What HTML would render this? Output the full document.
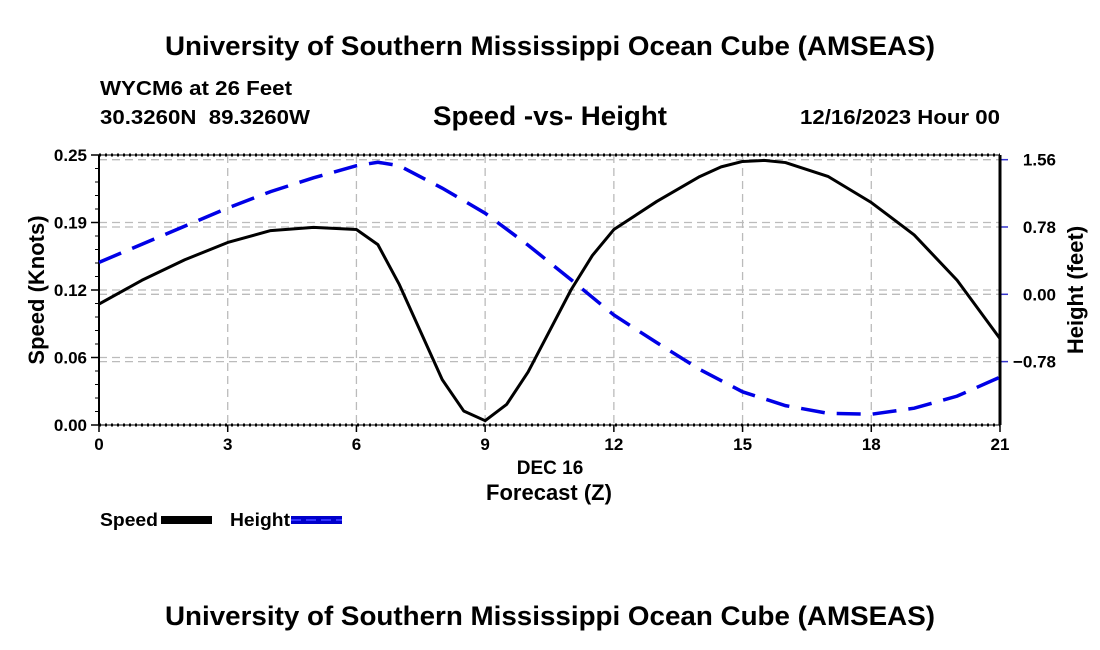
<!DOCTYPE html>
<html><head><meta charset="utf-8"><style>
body{margin:0;background:#fff;}
svg{display:block;font-family:"Liberation Sans",Arial,sans-serif;font-weight:bold;}
</style></head><body>
<svg id="chart" width="1100" height="650" viewBox="0 0 1100 650">
<text x="165" y="55" font-size="27" textLength="770" lengthAdjust="spacingAndGlyphs">University of Southern Mississippi Ocean Cube (AMSEAS)</text>
<text x="100" y="95" font-size="20" textLength="192" lengthAdjust="spacingAndGlyphs">WYCM6 at 26 Feet</text>
<text x="100" y="124" font-size="20" textLength="210" lengthAdjust="spacingAndGlyphs">30.3260N&#160;&#160;89.3260W</text>
<text x="433" y="125" font-size="27" textLength="234" lengthAdjust="spacingAndGlyphs">Speed -vs- Height</text>
<text x="800" y="124" font-size="20" textLength="200" lengthAdjust="spacingAndGlyphs">12/16/2023 Hour 00</text>
<text x="165" y="625" font-size="27" textLength="770" lengthAdjust="spacingAndGlyphs">University of Southern Mississippi Ocean Cube (AMSEAS)</text>
<text x="550" y="474" text-anchor="middle" font-size="19">DEC 16</text>
<text x="549" y="500" text-anchor="middle" font-size="22">Forecast (Z)</text>
<text transform="translate(44,290) rotate(-90)" text-anchor="middle" font-size="22">Speed (Knots)</text>
<text transform="translate(1083,290) rotate(-90)" text-anchor="middle" font-size="22">Height (feet)</text>
<g>
<text x="100" y="526" font-size="18" textLength="58" lengthAdjust="spacingAndGlyphs">Speed</text>
<rect x="161" y="516" width="51" height="8" fill="#000"/>
<text x="230" y="526" font-size="18" textLength="60" lengthAdjust="spacingAndGlyphs">Height</text>
<rect x="291" y="516" width="51" height="8" fill="#0000cc"/>
<line x1="291" y1="520" x2="342" y2="520" stroke="#3333ff" stroke-width="2" stroke-dasharray="10,5"/>
</g>
<g id="grid"></g><g id="axes"></g><g id="series"></g>
</svg>
<script>
const hours=[0,3,6,9,12,15,18,21];
const speedTicks=[0,0.0625,0.125,0.1875,0.25];
const speedTickLabels=["0.00","0.06","0.12","0.19","0.25"];
const heightTicks=[1.56,0.78,0,-0.78];
const heightTickLabels=["1.56","0.78","0.00","\u22120.78"];
const speedX=[0,1,2,3,4,5,6,6.5,7,7.5,8,8.5,9,9.5,10,10.5,11,11.5,12,13,14,14.5,15,15.5,16,17,18,19,20,21];
const speedVals=[0.112,0.134,0.153,0.169,0.180,0.183,0.181,0.167,0.130,0.086,0.042,0.013,0.004,0.019,0.049,0.087,0.125,0.157,0.181,0.207,0.230,0.239,0.244,0.245,0.243,0.230,0.206,0.176,0.134,0.080];
const heightX=[0,1,2,3,4,5,6,6.5,7,8,9,10,11,12,13,14,15,16,17,18,19,20,21];
const heightVals=[0.37,0.58,0.79,1.00,1.19,1.35,1.49,1.53,1.49,1.23,0.94,0.57,0.17,-0.24,-0.56,-0.87,-1.13,-1.29,-1.38,-1.39,-1.32,-1.18,-0.96];
const NS="http://www.w3.org/2000/svg";
const L=99,R=1000,T=155,B=425;
const xS=h=>L+h*(R-L)/21;
const yS=s=>B-s*(B-T)/0.25;
const yH=h=>294.3-h*86.3;
function mk(tag,attrs,parent){const e=document.createElementNS(NS,tag);for(const k in attrs)e.setAttribute(k,attrs[k]);parent.appendChild(e);return e;}
const grid=document.getElementById('grid'),axes=document.getElementById('axes'),series=document.getElementById('series');
hours.forEach((h,i)=>{
  if(h>0&&h<21){const g=mk('line',{x1:xS(h),x2:xS(h),y1:T,y2:B,stroke:'#bbb','stroke-width':1.3,'stroke-dasharray':'8,5'},grid);
  
  }
  const t=mk('line',{x1:xS(h),x2:xS(h),y1:B,y2:B+7,stroke:'#000','stroke-width':1.5},axes);
  
  
  const tx=mk('text',{x:xS(h),y:B+25,'text-anchor':'middle','font-size':17},axes);tx.textContent=h;
  
  
});
speedTicks.forEach((s,i)=>{
  const y=yS(s);
  const g=mk('line',{x1:L,x2:R,y1:y,y2:y,stroke:'#bbb','stroke-width':1.3,'stroke-dasharray':'8,5'},grid);
  
  
  const t=mk('line',{x1:L-8,x2:L,y1:y,y2:y,stroke:'#000','stroke-width':1.5},axes);
  
  
  const tx=mk('text',{x:L-12,y:y+6,'text-anchor':'end','font-size':17},axes);tx.textContent=speedTickLabels[i];
  
  
});
heightTicks.forEach((h,i)=>{
  const y=yH(h);
  const g=mk('line',{x1:L,x2:R,y1:y,y2:y,stroke:'#bbb','stroke-width':1.3,'stroke-dasharray':'8,5'},grid);
  
  
  const t=mk('line',{x1:R,x2:R+8,y1:y,y2:y,stroke:'#3333cc','stroke-width':1.5},axes);
  
  
  const tx=mk('text',{x:1056,y:y+6,'text-anchor':'end','font-size':17},axes);tx.textContent=heightTickLabels[i];
  
  
});
for(let s=0;s<=0.25;s+=0.25/20){const y=yS(s);mk('line',{x1:L-4,x2:L,y1:y,y2:y,stroke:'#000','stroke-width':1},axes);}
[T,B].forEach(y=>{
  mk('line',{x1:L,x2:R,y1:y,y2:y,stroke:'#000','stroke-width':1},axes);
  const d=mk('line',{x1:L,x2:R,y1:y,y2:y,stroke:'#000','stroke-width':3,'stroke-dasharray':'2,4'},axes);
  
  
});
mk('line',{x1:L,x2:L,y1:T,y2:B,stroke:'#000','stroke-width':2},axes);
mk('line',{x1:R,x2:R,y1:T,y2:B,stroke:'#000','stroke-width':3},axes);
const sp=mk('polyline',{points:speedX.map((h,i)=>xS(h)+','+yS(speedVals[i])).join(' '),fill:'none',stroke:'#000','stroke-width':3,'stroke-linejoin':'round'},series);


const hp=mk('polyline',{points:heightX.map((h,i)=>xS(h)+','+yH(heightVals[i])).join(' '),fill:'none',stroke:'#0000e6','stroke-width':3.5,'stroke-dasharray':'24,12'},series);


</script>
</body></html>
